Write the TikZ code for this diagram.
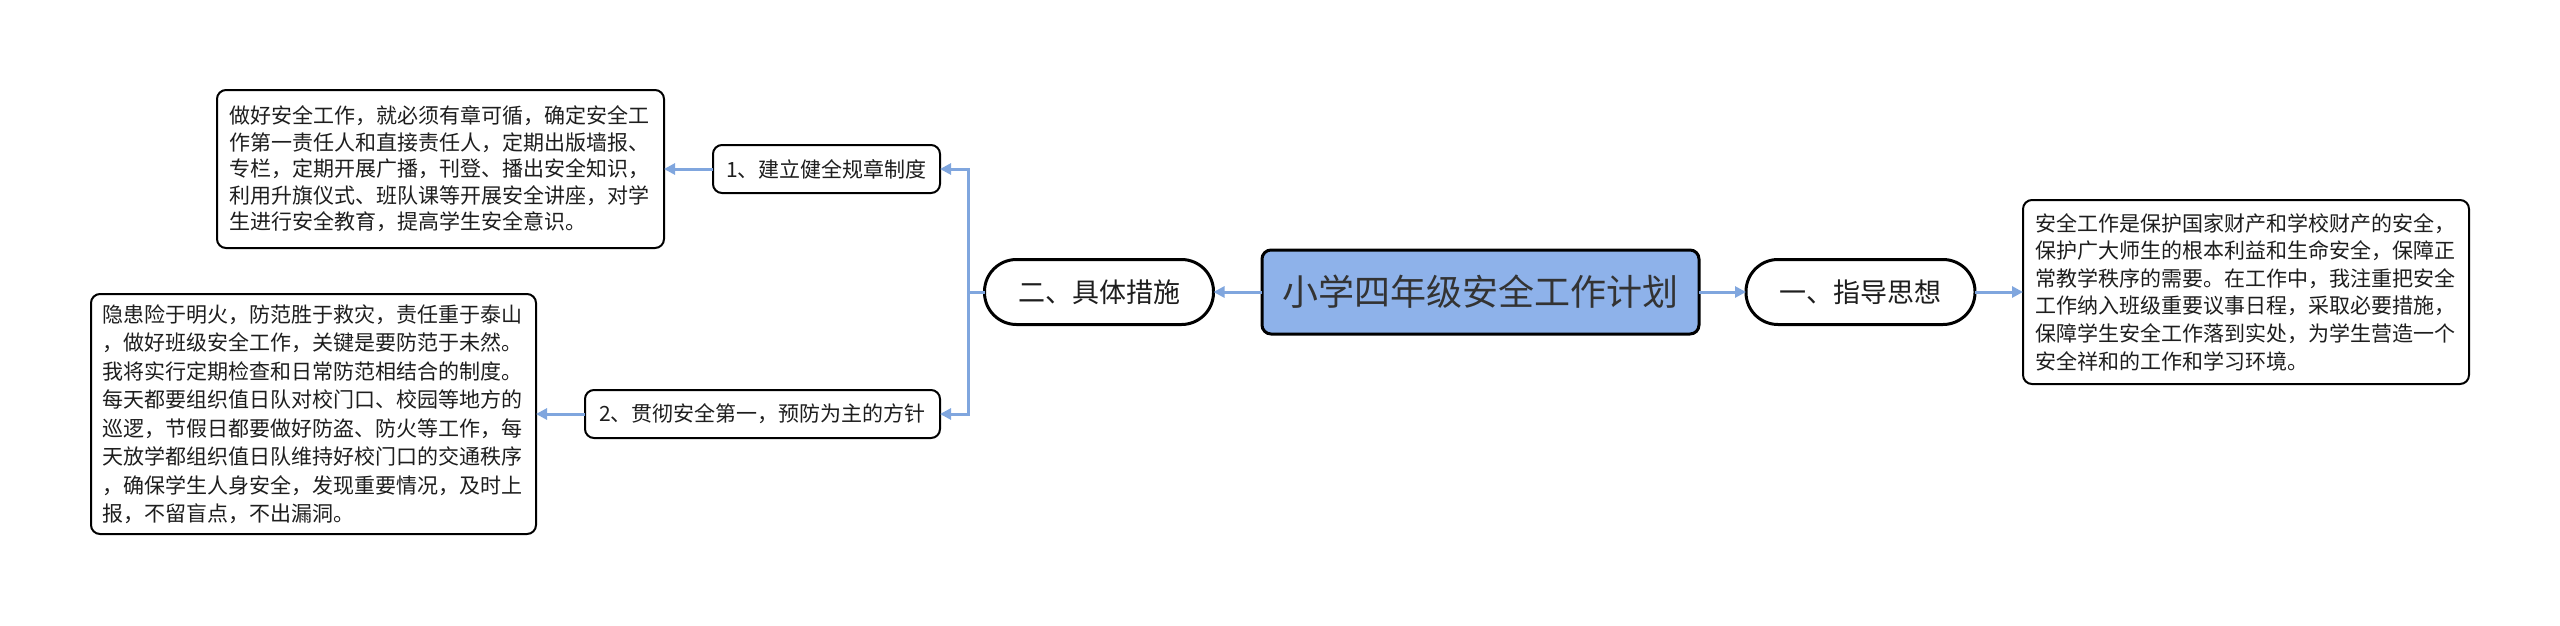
\documentclass[tikz,border=0pt]{standalone}
\usepackage{fontspec}
\setmainfont{Noto Sans CJK SC}
\usetikzlibrary{arrows.meta}
\definecolor{rootfill}{RGB}{142,178,234}
\definecolor{linkc}{RGB}{128,166,222}
\definecolor{txt}{RGB}{30,30,30}
\begin{document}
\begin{tikzpicture}[x=1pt,y=-1pt,
  every node/.style={inner sep=0pt,outer sep=0pt,anchor=center,text=txt},
  rootbox/.style={draw=black,line width=3pt,fill=rootfill,rounded corners=9pt,minimum width=437pt,minimum height=84pt,font=\fontsize{36}{40}\selectfont,text=black!80},
  pill/.style={draw=black,line width=3pt,fill=white,rounded corners=32pt,minimum width=229pt,minimum height=65pt,font=\fontsize{27}{30}\selectfont},
  subbox/.style={draw=black,line width=2pt,fill=white,rounded corners=9pt,minimum height=48pt,font=\fontsize{21}{24}\selectfont},
  textbox/.style={draw=black,line width=2pt,fill=white,rounded corners=9pt,align=left,text width=422pt},
  linkarrow/.style={draw=linkc,line width=3pt,-{Triangle[length=11pt,width=11pt]}},
  linkline/.style={draw=linkc,line width=3pt}
]
\useasboundingbox (0,0) rectangle (2560,625);

\node[rootbox] (root) at (1480.5,292) {小学四年级安全工作计划};
\node[pill] (one) at (1860.5,292) {一、指导思想};
\node[pill] (two) at (1099,292) {二、具体措施};

\node[textbox,minimum width=446pt,minimum height=184pt,font=\fontsize{21}{27.6}\selectfont] (rbox) at (2246,292) {安全工作是保护国家财产和学校财产的安全，\\保护广大师生的根本利益和生命安全，保障正\\常教学秩序的需要。在工作中，我注重把安全\\工作纳入班级重要议事日程，采取必要措施，\\保障学生安全工作落到实处，为学生营造一个\\安全祥和的工作和学习环境。};

\node[subbox,minimum width=227pt] (s1) at (826.5,169) {1、建立健全规章制度};
\node[subbox,minimum width=355pt] (s2) at (762.5,414) {2、贯彻安全第一，预防为主的方针};

\node[textbox,minimum width=447pt,minimum height=158pt,font=\fontsize{21}{26.5}\selectfont] (tbox) at (440.5,169) {做好安全工作，就必须有章可循，确定安全工\\作第一责任人和直接责任人，定期出版墙报、\\专栏，定期开展广播，刊登、播出安全知识，\\利用升旗仪式、班队课等开展安全讲座，对学\\生进行安全教育，提高学生安全意识。};

\node[textbox,minimum width=445pt,minimum height=240pt,font=\fontsize{21}{28.5}\selectfont] (bbox) at (313.5,414) {隐患险于明火，防范胜于救灾，责任重于泰山\\，做好班级安全工作，关键是要防范于未然。\\我将实行定期检查和日常防范相结合的制度。\\每天都要组织值日队对校门口、校园等地方的\\巡逻，节假日都要做好防盗、防火等工作，每\\天放学都组织值日队维持好校门口的交通秩序\\，确保学生人身安全，发现重要情况，及时上\\报，不留盲点，不出漏洞。};

\coordinate (bus) at (968,292);
\draw[linkarrow] (root.west) -- (two.east);
\draw[linkarrow] (root.east) -- (one.west);
\draw[linkarrow] (one.east) -- (rbox.west);
\draw[linkline] (two.west) -- (bus);
\draw[linkarrow] (bus) |- (s1.east);
\draw[linkarrow] (bus) |- (s2.east);
\draw[linkarrow] (s1.west) -- (tbox.east);
\draw[linkarrow] (s2.west) -- (bbox.east);
\end{tikzpicture}
\end{document}
